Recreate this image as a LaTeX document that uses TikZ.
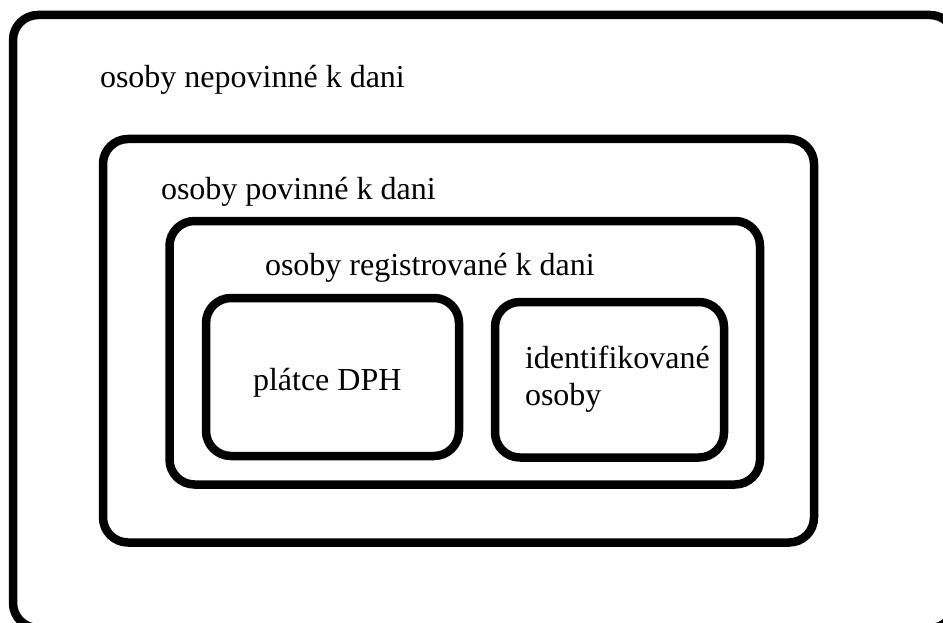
\documentclass[tikz,border=0pt]{standalone}
\usepackage{fontspec}
\setmainfont{Liberation Serif}
\begin{document}
\begin{tikzpicture}[x=1pt,y=-1pt,
  setbox/.style={draw=black,line width=8.5pt,rounded corners=25pt,inner sep=0pt,outer sep=0pt},
  label/.style={anchor=base west,inner sep=0pt,outer sep=0pt,font=\fontsize{32}{37}\selectfont,align=left}]
  \useasboundingbox (0,0) rectangle (943,623);
  \clip (0,0) rectangle (943,623);
  % nested sets, stroke centre lines
  \draw[setbox] (13,15) rectangle (955,628);
  \draw[setbox] (103,139) rectangle (814,542.5);
  \draw[setbox] (169.5,221) rectangle (760,484.5);
  \draw[setbox] (206,298) rectangle (459,456);
  \draw[setbox] (495,302) rectangle (724,457.5);
  % set names
  \node[label] (nepovinne) at (100,88) {osoby nepovinné k dani};
  \node[label] (povinne) at (161,200) {osoby povinné k dani};
  \node[label] (registrovane) at (265,275) {osoby registrované k dani};
  \node[label] (platce) at (253,390) {plátce DPH};
  \node[label] (identifikovane) at (525,368) {identifikované};
  \node[label] (osoby) at (525,405) {osoby};
\end{tikzpicture}
\end{document}
